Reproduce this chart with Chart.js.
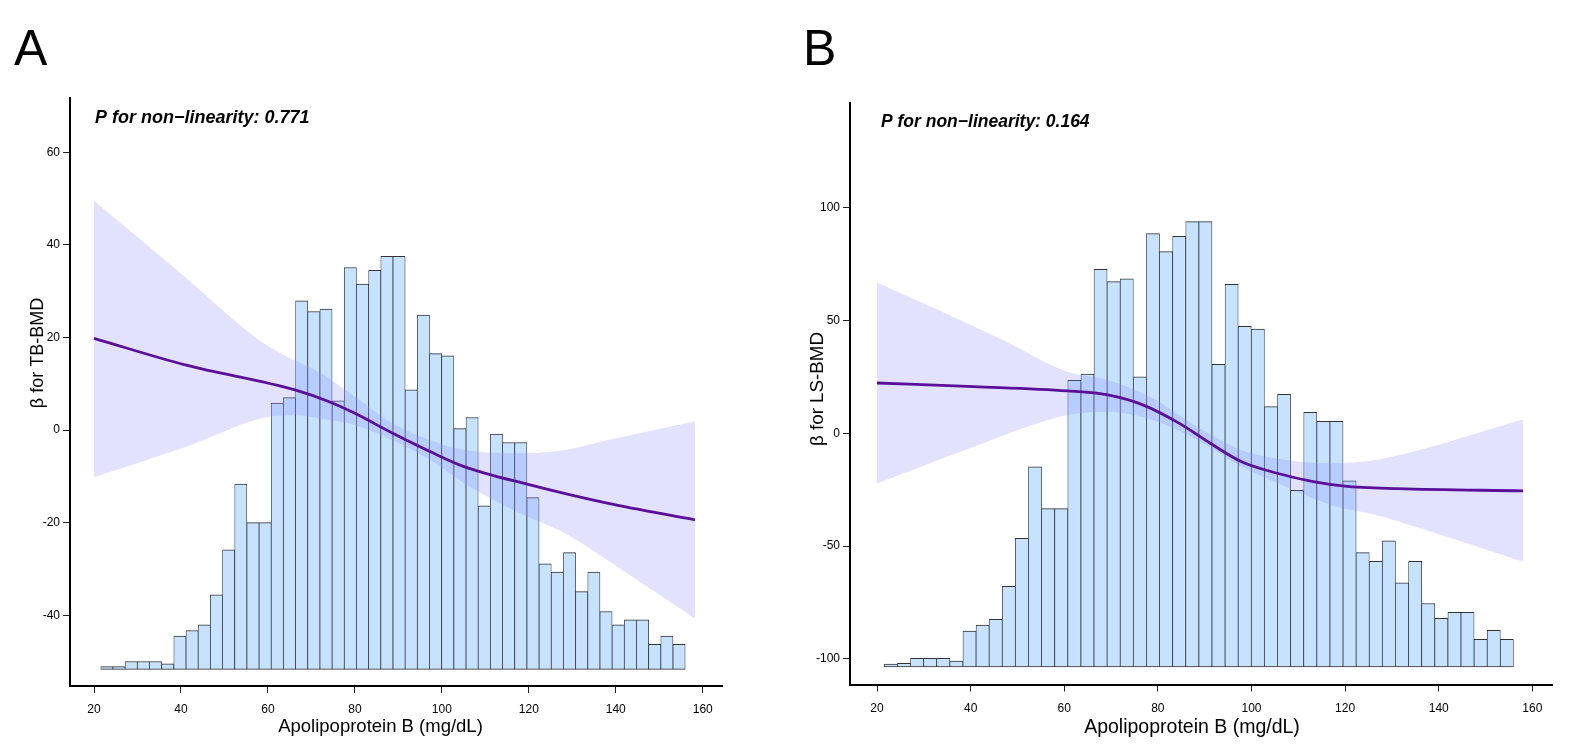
<!DOCTYPE html>
<html>
<head>
<meta charset="utf-8">
<script src="https://cdn.jsdelivr.net/npm/chart.js@4.4.1/dist/chart.umd.min.js"></script>
<style>
    html, body { margin: 0; padding: 0; background: #fff; }
    #wrap { position: relative; width: 1571px; height: 746px; }
    .panel { position: absolute; top: 0; height: 746px; }
</style>
</head>
<body>
<div id="wrap">
    <div class="panel" style="left:0;width:785px"><canvas id="chartA"></canvas></div>
    <div class="panel" style="left:785px;width:786px"><canvas id="chartB"></canvas></div>
</div>
<script>
// histogram bins of Apolipoprotein B (bin centres, mg/dL)
const BIN_CENTERS = [22.96, 25.76, 28.56, 31.36, 34.16, 36.96, 39.76, 42.56, 45.36, 48.16,
    50.96, 53.76, 56.56, 59.36, 62.16, 64.96, 67.76, 70.56, 73.36, 76.16,
    78.96, 81.76, 84.56, 87.36, 90.16, 92.96, 95.76, 98.56, 101.36, 104.16,
    106.96, 109.76, 112.56, 115.36, 118.16, 120.96, 123.76, 126.56, 129.36, 132.16,
    134.96, 137.76, 140.56, 143.36, 146.16, 148.96, 151.76, 154.56];

// bar tops, read on each panel's beta axis; bars start at the base value
const HIST_BASE_A = -51.7;
const HIST_A = [-51.1, -51.1, -50.0, -50.0, -50.0, -50.5, -44.5, -43.3, -42.1, -35.6,
    -25.9, -11.7, -20.0, -20.0, 5.8, 7.0, 27.9, 25.6, 26.1, 6.3,
    35.1, 31.5, 34.5, 37.5, 37.5, 8.7, 24.8, 16.5, 16.0, 0.3,
    2.7, -16.4, -0.9, -2.7, -2.7, -14.6, -28.9, -30.7, -26.5, -34.9,
    -30.7, -39.2, -42.1, -41.0, -41.0, -46.3, -44.5, -46.3];

const HIST_BASE_B = -103.5;
const HIST_B = [-102.3, -101.9, -99.7, -99.7, -99.7, -100.9, -87.6, -85.0, -82.4, -67.8,
    -46.5, -14.8, -33.4, -33.4, 23.5, 26.3, 72.7, 67.2, 68.5, 25.0,
    88.5, 80.5, 87.3, 93.8, 93.8, 30.6, 66.0, 47.4, 46.2, 11.8,
    17.3, -25.3, 9.3, 5.3, 5.3, -21.1, -52.9, -56.7, -47.6, -66.2,
    -56.7, -75.4, -82.0, -79.3, -79.3, -91.3, -87.3, -91.3];

// restricted cubic spline fit + 95% CI, panel A (TB-BMD)
const CURVE_A_X = [20, 41.2, 66.4, 74.1, 80, 88.7, 97.4, 105.1, 119.6, 138, 158.2];
const CURVE_A_Y = [19.8, 14.0, 8.6, 6.1, 3.6, -0.7, -4.7, -7.9, -11.7, -15.8, -19.4];
const UPPER_A_X = [20, 40, 57.7, 63, 72.2, 80, 88.7, 97.4, 105.1, 119.6, 128.3, 138, 158.2];
const UPPER_A_Y = [49.5, 33.8, 19.6, 16.5, 12.2, 7.2, 1.4, -2.2, -4.3, -5.0, -4.3, -2.2, 1.9];
const LOWER_A_X = [20, 41.2, 60.6, 66.4, 72.2, 80, 88.7, 97.4, 105.1, 119.6, 128.3, 138, 158.2];
const LOWER_A_Y = [-10.2, -3.6, 2.9, 3.2, 2.5, 1.1, -2.2, -6.5, -11.5, -18.7, -22.3, -28.1, -40.7];

// panel B (LS-BMD)
const CURVE_B_X = [20, 40.7, 60.7, 69.3, 76.9, 84.6, 91.2, 97.9, 105.5, 113.2, 119.9, 131.3, 158];
const CURVE_B_Y = [22.3, 20.7, 18.8, 17.0, 12.5, 4.4, -4.4, -12.6, -17.7, -21.4, -23.4, -24.5, -25.5];
const UPPER_B_X = [20, 46.9, 60.7, 69.3, 78.9, 88.4, 97.9, 107.4, 116.9, 126.5, 136, 158];
const UPPER_B_Y = [66.8, 41.4, 27.3, 23.6, 15.5, 2.9, -7.4, -11.8, -13.3, -11.8, -7.4, 6.2];
const LOWER_B_X = [20, 40.7, 60.7, 69.3, 78.9, 88.4, 97.9, 107.4, 116.9, 126.5, 136, 158];
const LOWER_B_Y = [-22.2, -5.9, 8.1, 9.6, 5.9, -3.0, -14.8, -23.7, -31.8, -36.2, -42.1, -56.9];

const X_TICKS = [20, 40, 60, 80, 100, 120, 140, 160];
const Y_TICKS_A = [-40, -20, 0, 20, 40, 60];
const Y_TICKS_B = [-100, -50, 0, 50, 100];

const FONT = '"Liberation Sans", Arial, Helvetica, sans-serif';
const BAR_FILL = '#c6e2ff';
const BAR_EDGE = '#333333';
const BAND_FILL = 'rgba(140, 140, 255, 0.25)';
const LINE_COLOR = '#5b0e9a';

const pts = (xs, ys) => xs.map((x, i) => ({ x: x, y: ys[i] }));

// texts drawn on top of each panel (letter, p-value, axis titles)
function labelsPlugin(t) {
    return {
        id: 'panelLabels',
        afterDraw(chart) {
            const ctx = chart.ctx;
            ctx.save();
            ctx.fillStyle = '#000';
            ctx.textBaseline = 'alphabetic';

            ctx.font = '50px ' + FONT;
            ctx.textAlign = 'left';
            ctx.fillText(t.letter, t.letterX, 65);

            ctx.font = 'italic bold ' + t.pSize + 'px ' + FONT;
            ctx.fillText(t.pText, t.pX, t.pY);

            ctx.font = t.xtSize + 'px ' + FONT;
            ctx.textAlign = 'center';
            ctx.fillText('Apolipoprotein B (mg/dL)', t.xtX, t.xtY);

            ctx.font = t.ytSize + 'px ' + FONT;
            ctx.translate(t.ytX, t.ytY);
            ctx.rotate(-Math.PI / 2);
            ctx.fillText(t.yTitle, 0, 0);
            ctx.restore();
        }
    };
}

function buildPanel(canvasId, p) {
    new Chart(document.getElementById(canvasId), {
        data: {
            datasets: [
                {
                    type: 'line',
                    data: pts(p.curveX, p.curveY),
                    borderColor: LINE_COLOR,
                    borderWidth: 2.8,
                    pointRadius: 0,
                    cubicInterpolationMode: 'monotone',
                    fill: false,
                    order: 0
                },
                {
                    type: 'line',
                    data: pts(p.upperX, p.upperY),
                    borderWidth: 0,
                    borderColor: 'rgba(0,0,0,0)',
                    backgroundColor: BAND_FILL,
                    pointRadius: 0,
                    cubicInterpolationMode: 'monotone',
                    fill: '+1',
                    order: 1
                },
                {
                    type: 'line',
                    data: pts(p.lowerX, p.lowerY),
                    borderWidth: 0,
                    borderColor: 'rgba(0,0,0,0)',
                    pointRadius: 0,
                    cubicInterpolationMode: 'monotone',
                    fill: false,
                    order: 2
                },
                {
                    type: 'bar',
                    data: BIN_CENTERS.map((x, i) => ({ x: x, y: [p.histBase, p.hist[i]] })),
                    backgroundColor: BAR_FILL,
                    borderColor: BAR_EDGE,
                    borderWidth: { top: 1, bottom: 1, left: 0.75, right: 0.75 },
                    borderSkipped: false,
                    barPercentage: 1,
                    categoryPercentage: 1,
                    grouped: false,
                    order: 3
                }
            ]
        },
        options: {
            responsive: true,
            maintainAspectRatio: false,
            animation: false,
            layout: { padding: p.padding },
            plugins: { legend: { display: false }, tooltip: { enabled: false } },
            scales: {
                x: {
                    type: 'linear',
                    offset: false,
                    min: p.xMin, max: p.xMax,
                    afterBuildTicks: s => { s.ticks = X_TICKS.map(v => ({ value: v })); },
                    afterFit: s => { s.height = p.xAxisH; },
                    grid: { display: true, offset: false, drawOnChartArea: false, drawTicks: true, tickLength: 7, tickColor: '#222', tickWidth: 1 },
                    border: { display: true, color: '#000', width: 2 },
                    ticks: { color: '#000', font: { family: FONT, size: 12 }, padding: p.xTickPad, maxRotation: 0, autoSkip: false }
                },
                y: {
                    type: 'linear',
                    min: p.yMin, max: p.yMax,
                    afterBuildTicks: s => { s.ticks = p.yTicks.map(v => ({ value: v })); },
                    afterFit: s => { s.width = p.yAxisW; },
                    grid: { display: true, drawOnChartArea: false, drawTicks: true, tickLength: 7, tickColor: '#222', tickWidth: 1 },
                    border: { display: true, color: '#000', width: 2 },
                    ticks: { color: '#000', font: { family: FONT, size: 12 }, padding: 3, autoSkip: false }
                }
            }
        },
        plugins: [labelsPlugin(p.labels)]
    });
}

buildPanel('chartA', {
    hist: HIST_A, histBase: HIST_BASE_A,
    curveX: CURVE_A_X, curveY: CURVE_A_Y,
    upperX: UPPER_A_X, upperY: UPPER_A_Y,
    lowerX: LOWER_A_X, lowerY: LOWER_A_Y,
    xMin: 14.48, xMax: 164.43, yMin: -55.29, yMax: 71.71, yTicks: Y_TICKS_A,
    padding: { left: 0, top: 98, right: 63, bottom: 0 },
    yAxisW: 70, xAxisH: 60, xTickPad: 9,
    labels: {
        letter: 'A', letterX: 14,
        pText: 'P for non\u2212linearity: 0.771', pSize: 18, pX: 95, pY: 123.3,
        xtSize: 18.5, xtX: 380.5, xtY: 731.5,
        yTitle: '\u03b2 for TB-BMD', ytSize: 18, ytX: 43.3, ytY: 353
    }
});

buildPanel('chartB', {
    hist: HIST_B, histBase: HIST_BASE_B,
    curveX: CURVE_B_X, curveY: CURVE_B_Y,
    upperX: UPPER_B_X, upperY: UPPER_B_Y,
    lowerX: LOWER_B_X, lowerY: LOWER_B_Y,
    xMin: 14.23, xMax: 164.35, yMin: -111.3, yMax: 146.5, yTicks: Y_TICKS_B,
    padding: { left: 0, top: 102.7, right: 18.3, bottom: 0 },
    yAxisW: 65, xAxisH: 61.5, xTickPad: 10,
    labels: {
        letter: 'B', letterX: 18,
        pText: 'P for non\u2212linearity: 0.164', pSize: 17.5, pX: 96, pY: 127.3,
        xtSize: 19.5, xtX: 407, xtY: 733.3,
        yTitle: '\u03b2 for LS-BMD', ytSize: 18.8, ytX: 38.3, ytY: 389
    }
});
</script>
</body>
</html>
